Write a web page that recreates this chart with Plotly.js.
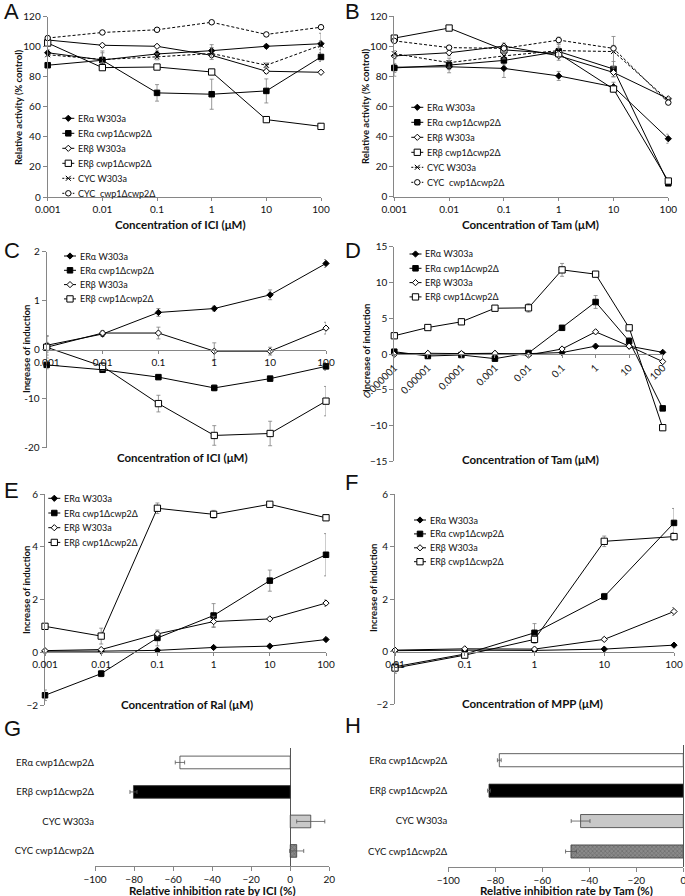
<!DOCTYPE html>
<html><head><meta charset="utf-8">
<script src="https://cdn.plot.ly/plotly-3.0.1.min.js"></script>
<style>html,body{margin:0;padding:0;background:#fff}#chart{width:685px;height:896px}</style>
</head><body><div id="chart"></div>
<script>
// ---------------- DATA ----------------
const CONC_A = [0.001, 0.01, 0.1, 1, 10, 100];
const CONC_B = [0.001, 0.01, 0.1, 1, 10, 100];
const CONC_C = [0.001, 0.01, 0.1, 1, 10, 100];
const CONC_D = [0.000001, 0.00001, 0.0001, 0.001, 0.01, 0.1, 1, 10, 100];
const CONC_E = [0.001, 0.01, 0.1, 1, 10, 100];
const CONC_F = [0.01, 0.1, 1, 10, 100];
const TICKS_6 = ['0.001', '0.01', '0.1', '1', '10', '100'];
const TICKS_D = ['0.000001', '0.00001', '0.0001', '0.001', '0.01', '0.1', '1', '10', '100'];
const TICKS_F = ['0.01', '0.1', '1', '10', '100'];

const NAME_ERA_W = 'ERα W303a';
const NAME_ERA_CWP = 'ERα cwp1Δcwp2Δ';
const NAME_ERB_W = 'ERβ W303a';
const NAME_ERB_CWP = 'ERβ cwp1Δcwp2Δ';
const NAME_CYC_W = 'CYC W303a';
const NAME_CYC_CWP = 'CYC\u00a0 cwp1Δcwp2Δ';

// Panel A: relative activity (% control), ICI
const A_ERA_W = [96, 91.2, 95.2, 97.4, 100.3, 102];
const A_ERA_W_SD = [2, 6, 2, 4, 1, 7];
const A_ERA_CWP = [87.7, 91, 69.3, 68.4, 70.6, 93.2];
const A_ERA_CWP_SD = [1.5, 5, 5.5, 10, 8, 3];
const A_ERB_W = [104.5, 101, 100.3, 94.3, 83.7, 83];
const A_ERB_W_SD = [1, 1, 1, 1.5, 1.5, 1];
const A_ERB_CWP = [102.5, 86.1, 86.5, 83.2, 51.5, 47];
const A_ERB_CWP_SD = [2, 1.5, 1, 1, 1, 2];
const A_CYC_W = [94.7, 91.5, 93.3, 95.5, 87.7, 101];
const A_CYC_W_SD = [1, 2, 2, 4, 1.5, 3];
const A_CYC_CWP = [105.8, 109.5, 111.3, 116.3, 108.2, 113];
const A_CYC_CWP_SD = [1, 1, 1, 1, 1, 1];

// Panel B: relative activity (% control), Tam
const B_ERA_W = [86, 86.3, 85.2, 80.2, 73, 38.5];
const B_ERA_W_SD = [6, 4, 6, 3, 3, 3];
const B_ERA_CWP = [85.5, 87.4, 90.5, 96.4, 84.8, 8.9];
const B_ERA_CWP_SD = [3, 3, 3, 3, 5, 1];
const B_ERB_W = [93.5, 95.6, 100, 93.6, 82.5, 65];
const B_ERB_W_SD = [2, 2, 2, 3, 3, 1];
const B_ERB_CWP = [105.3, 112, 97.5, 95, 71.5, 10.4];
const B_ERB_CWP_SD = [2, 1, 2, 2, 2, 1];
const B_CYC_W = [95, 89, 93.5, 97, 96.4, 64];
const B_CYC_W_SD = [2, 3, 2, 4, 10, 2];
const B_CYC_CWP = [103.5, 99, 98.5, 104, 98.5, 62.5];
const B_CYC_CWP_SD = [1, 1, 2, 2, 2, 1];

// Panel C: increase of induction, ICI (broken axis: cwp1Δcwp2Δ series on the x10 lower segment)
const C_ERA_W = [0.09, 0.32, 0.76, 0.84, 1.12, 1.76];
const C_ERA_W_SD = [0.2, 0.05, 0.08, 0.05, 0.1, 0.08];
const C_ERA_CWP = [-3.1, -4.1, -5.6, -7.8, -5.9, -3.4];
const C_ERA_CWP_SD = [0.8, 0.5, 0.4, 0.6, 0.4, 0.8];
const C_ERB_W = [0.05, 0.34, 0.34, -0.03, -0.03, 0.44];
const C_ERB_W_SD = [0.22, 0.05, 0.12, 0.17, 0.08, 0.12];
const C_ERB_CWP = [0.5, -3.4, -11, -17.5, -17.1, -10.5];
const C_ERB_CWP_SD = [1, 0.8, 1.7, 2, 2.5, 3];
const C_YTICKS = ['-20', '-10', '0', '1', '2'];

// Panel D: increase of induction, Tam
const D_ERA_W = [0.14, -0.1, 0, 0, 0.05, 0.2, 1.1, 1.1, 0.23];
const D_ERA_W_SD = [0.1, 0.1, 0.1, 0.1, 0.1, 0.1, 0.1, 0.1, 0.1];
const D_ERA_CWP = [0.32, -0.28, -0.14, -0.65, 0.14, 3.66, 7.27, 1.8, -7.6];
const D_ERA_CWP_SD = [0.2, 0.2, 0.2, 0.3, 0.2, 0.3, 0.9, 0.5, 0.3];
const D_ERB_W = [-0.05, 0.1, 0.05, 0.1, -0.14, 0.7, 3.1, 1.1, -1.06];
const D_ERB_W_SD = [0.1, 0.1, 0.1, 0.1, 0.1, 0.2, 0.2, 0.2, 0.2];
const D_ERB_CWP = [2.55, 3.7, 4.5, 6.4, 6.45, 11.76, 11.16, 3.66, -10.3];
const D_ERB_CWP_SD = [0.2, 0.3, 0.4, 0.3, 0.6, 0.9, 0.3, 0.3, 0.4];

// Panel E: increase of induction, Ral
const E_ERA_W = [0.05, 0.05, 0.08, 0.19, 0.24, 0.49];
const E_ERA_W_SD = [0.02, 0.02, 0.03, 0.03, 0.03, 0.04];
const E_ERA_CWP = [-1.62, -0.8, 0.55, 1.4, 2.72, 3.7];
const E_ERA_CWP_SD = [0.2, 0.12, 0.3, 0.45, 0.4, 0.8];
const E_ERB_W = [0.07, 0.11, 0.7, 1.17, 1.27, 1.87];
const E_ERB_W_SD = [0.03, 0.04, 0.1, 0.2, 0.05, 0.12];
const E_ERB_CWP = [0.99, 0.62, 5.46, 5.23, 5.61, 5.1];
const E_ERB_CWP_SD = [0.05, 0.3, 0.2, 0.15, 0.05, 0.08];

// Panel F: increase of induction, MPP
const F_ERA_W = [0.04, 0.06, 0.05, 0.1, 0.25];
const F_ERA_W_SD = [0.02, 0.02, 0.02, 0.03, 0.04];
const F_ERA_CWP = [-0.57, -0.09, 0.72, 2.1, 4.9];
const F_ERA_CWP_SD = [0.15, 0.1, 0.35, 0.12, 0.55];
const F_ERB_W = [0.06, 0.11, 0.1, 0.47, 1.53];
const F_ERB_W_SD = [0.03, 0.03, 0.03, 0.05, 0.15];
const F_ERB_CWP = [-0.62, -0.13, 0.47, 4.2, 4.38];
const F_ERB_CWP_SD = [0.2, 0.1, 0.15, 0.2, 0.15];

// Panels G, H: relative inhibition rate (%)
const BAR_LABELS = ['ERα cwp1Δcwp2Δ', 'ERβ cwp1Δcwp2Δ', 'CYC W303a', 'CYC cwp1Δcwp2Δ'];
const G_VALUES = [-56.5, -80.3, 10.5, 3.3];
const G_SD = [2.4, 1.8, 7.2, 3.6];
const H_VALUES = [-78.3, -82.7, -43.7, -47.8];
const H_SD = [0.8, 0.6, 4, 2.3];

// ---------------- STYLE / LAYOUT ----------------
const W = 685, H = 896;
const FONT = 'Lato, "Open Sans", sans-serif';
const AXC = '#868686';
const fx = p => p / W;
const fy = p => 1 - p / H;

const STY = {
  eraW:  {symbol: 'diamond', size: 4.8, color: '#000', line: {color: '#000', width: 1}},
  eraC:  {symbol: 'square', size: 5.5, color: '#000', line: {color: '#000', width: 1}},
  erbW:  {symbol: 'diamond', size: 4.8, color: '#fff', line: {color: '#000', width: 1}},
  erbC:  {symbol: 'square', size: 6.3, color: '#fff', line: {color: '#000', width: 1}},
  cycW:  {symbol: 'x-thin', size: 5, color: '#000', line: {color: '#000', width: 1}},
  cycC:  {symbol: 'circle', size: 5.5, color: '#fff', line: {color: '#000', width: 1}},
};
const DASH = '3px,2px';

function tr(name, x, y, sd, sty, n, dashed) {
  return {
    type: 'scatter', mode: 'lines+markers', name: name, x: x, y: y, showlegend: false,
    error_y: {type: 'data', array: sd, visible: true, color: '#7f7f7f', thickness: 0.8, width: 2},
    line: {color: '#000', width: 1, dash: dashed ? DASH : 'solid'},
    marker: sty,
    xaxis: 'x' + (n === 1 ? '' : n), yaxis: 'y' + (n === 1 ? '' : n),
    cliponaxis: false
  };
}
const C_LOWER = 0.1;
const lowC = arr => arr.map(v => v * C_LOWER);

const traces = [
  tr(NAME_ERA_W, CONC_A, A_ERA_W, A_ERA_W_SD, STY.eraW, 1),
  tr(NAME_ERA_CWP, CONC_A, A_ERA_CWP, A_ERA_CWP_SD, STY.eraC, 1),
  tr(NAME_ERB_W, CONC_A, A_ERB_W, A_ERB_W_SD, STY.erbW, 1),
  tr(NAME_ERB_CWP, CONC_A, A_ERB_CWP, A_ERB_CWP_SD, STY.erbC, 1),
  tr(NAME_CYC_W, CONC_A, A_CYC_W, A_CYC_W_SD, STY.cycW, 1, true),
  tr(NAME_CYC_CWP, CONC_A, A_CYC_CWP, A_CYC_CWP_SD, STY.cycC, 1, true),

  tr(NAME_ERA_W, CONC_B, B_ERA_W, B_ERA_W_SD, STY.eraW, 2),
  tr(NAME_ERA_CWP, CONC_B, B_ERA_CWP, B_ERA_CWP_SD, STY.eraC, 2),
  tr(NAME_ERB_W, CONC_B, B_ERB_W, B_ERB_W_SD, STY.erbW, 2),
  tr(NAME_ERB_CWP, CONC_B, B_ERB_CWP, B_ERB_CWP_SD, STY.erbC, 2),
  tr(NAME_CYC_W, CONC_B, B_CYC_W, B_CYC_W_SD, STY.cycW, 2, true),
  tr(NAME_CYC_CWP, CONC_B, B_CYC_CWP, B_CYC_CWP_SD, STY.cycC, 2, true),

  tr(NAME_ERA_W, CONC_C, C_ERA_W, C_ERA_W_SD, STY.eraW, 3),
  tr(NAME_ERA_CWP, CONC_C, lowC(C_ERA_CWP), lowC(C_ERA_CWP_SD), STY.eraC, 3),
  tr(NAME_ERB_W, CONC_C, C_ERB_W, C_ERB_W_SD, STY.erbW, 3),
  tr(NAME_ERB_CWP, CONC_C, lowC(C_ERB_CWP), lowC(C_ERB_CWP_SD), STY.erbC, 3),

  tr(NAME_ERA_W, CONC_D, D_ERA_W, D_ERA_W_SD, STY.eraW, 4),
  tr(NAME_ERA_CWP, CONC_D, D_ERA_CWP, D_ERA_CWP_SD, STY.eraC, 4),
  tr(NAME_ERB_W, CONC_D, D_ERB_W, D_ERB_W_SD, STY.erbW, 4),
  tr(NAME_ERB_CWP, CONC_D, D_ERB_CWP, D_ERB_CWP_SD, STY.erbC, 4),

  tr(NAME_ERA_W, CONC_E, E_ERA_W, E_ERA_W_SD, STY.eraW, 5),
  tr(NAME_ERA_CWP, CONC_E, E_ERA_CWP, E_ERA_CWP_SD, STY.eraC, 5),
  tr(NAME_ERB_W, CONC_E, E_ERB_W, E_ERB_W_SD, STY.erbW, 5),
  tr(NAME_ERB_CWP, CONC_E, E_ERB_CWP, E_ERB_CWP_SD, STY.erbC, 5),

  tr(NAME_ERA_W, CONC_F, F_ERA_W, F_ERA_W_SD, STY.eraW, 6),
  tr(NAME_ERA_CWP, CONC_F, F_ERA_CWP, F_ERA_CWP_SD, STY.eraC, 6),
  tr(NAME_ERB_W, CONC_F, F_ERB_W, F_ERB_W_SD, STY.erbW, 6),
  tr(NAME_ERB_CWP, CONC_F, F_ERB_CWP, F_ERB_CWP_SD, STY.erbC, 6),
];

function barTrace(vals, sd, n) {
  return {
    type: 'bar', orientation: 'h', x: vals, y: BAR_LABELS, width: 0.43, showlegend: false,
    xaxis: 'x' + n, yaxis: 'y' + n,
    marker: {color: ['#ffffff', '#000000', '#c8c8c8', '#8a8a8a'],
             line: {color: '#3a3a3a', width: 0.8},
             pattern: {shape: ['', '', '', 'x'], fillmode: 'overlay', fgcolor: '#1a1a1a',
                       size: 3, solidity: 0.35}},
    error_x: {type: 'data', array: sd, visible: true, color: '#555', thickness: 0.8, width: 2}
  };
}
traces.push(barTrace(G_VALUES, G_SD, 7));
traces.push(barTrace(H_VALUES, H_SD, 8));

const tickFont = {family: FONT, size: 10, color: '#111'};
function logX(x0, x1, range, vals, text, anchor, extra) {
  return Object.assign({
    type: 'log', domain: [fx(x0), fx(x1)], range: range, tickvals: vals, ticktext: text,
    showline: true, linecolor: AXC, linewidth: 1, ticks: 'outside', ticklen: 3, tickcolor: AXC,
    showgrid: false, zeroline: false, tickfont: tickFont, anchor: anchor, fixedrange: true
  }, extra || {});
}
function linY(y0, y1, range, extra, anchor) {
  return Object.assign({
    domain: [fy(y1), fy(y0)], range: range, showline: true, linecolor: AXC, linewidth: 1,
    ticks: 'outside', ticklen: 4, tickcolor: AXC, showgrid: false, zeroline: false,
    tickfont: tickFont, anchor: anchor
  }, extra || {});
}
function zeroPos(y0, y1, range) { // paper y of value 0 in a panel
  const d0 = fy(y1), d1 = fy(y0);
  return d0 + (0 - range[0]) / (range[1] - range[0]) * (d1 - d0);
}

const RC = [-2, 2], RD = [-15, 15], RE = [-2, 6], RF = [-2, 6];
const layout = {
  width: W, height: H, margin: {l: 0, r: 0, t: 0, b: 0},
  paper_bgcolor: '#fff', plot_bgcolor: 'rgba(0,0,0,0)',
  font: {family: FONT, size: 10, color: '#111'},
  showlegend: false,
  xaxis: logX(47.7, 321, [-3, 2], CONC_A, TICKS_6, 'y'),
  yaxis: linY(16.7, 197, [0, 120], {dtick: 20}, 'x'),
  xaxis2: logX(394.3, 668.3, [-3, 2], CONC_B, TICKS_6, 'y2'),
  yaxis2: linY(16, 196.7, [0, 120], {dtick: 20}, 'x2'),
  xaxis3: logX(46.7, 326, [-3, 2], CONC_C, TICKS_6, 'free', {position: zeroPos(251.7, 447.7, RC)}),
  yaxis3: linY(251.7, 447.7, RC, {tickvals: [-2, -1, 0, 1, 2], ticktext: C_YTICKS}, 'x3'),
  xaxis4: logX(394.3, 662.7, [-6, 2], CONC_D, TICKS_D, 'free', {position: zeroPos(246.7, 461.3, RD), tickangle: -45}),
  yaxis4: linY(246.7, 461.3, RD, {dtick: 5}, 'x4'),
  xaxis5: logX(45, 326, [-3, 2], CONC_E, TICKS_6, 'free', {position: zeroPos(494, 705.3, RE)}),
  yaxis5: linY(494, 705.3, RE, {dtick: 2}, 'x5'),
  xaxis6: logX(395, 674, [-2, 2], CONC_F, TICKS_F, 'free', {position: zeroPos(494, 704.3, RF)}),
  yaxis6: linY(494, 704.3, RF, {dtick: 2}, 'x6'),
  xaxis7: {domain: [fx(95), fx(329.3)], range: [-100, 20], tickvals: [-100, -80, -60, -40, -20, 0, 20],
           showline: true, linecolor: AXC, ticks: 'outside', ticklen: 4, tickcolor: AXC, showgrid: false,
           zeroline: true, zerolinecolor: '#555', zerolinewidth: 1, tickfont: tickFont, anchor: 'y7'},
  yaxis7: {domain: [fy(865.7), fy(747.7)], type: 'category', autorange: 'reversed', showline: false,
           ticks: '', showgrid: false, tickfont: {family: FONT, size: 9.5, color: '#111'}, anchor: 'x7'},
  xaxis8: {domain: [fx(448.3), fx(683.3)], range: [-100, 0], tickvals: [-100, -80, -60, -40, -20, 0],
           showline: true, linecolor: AXC, ticks: 'outside', ticklen: 4, tickcolor: AXC, showgrid: false,
           zeroline: true, zerolinecolor: '#555', zerolinewidth: 1, tickfont: tickFont, anchor: 'y8',
           ticklabeloverflow: 'allow'},
  yaxis8: {domain: [fy(866.7), fy(745)], type: 'category', autorange: 'reversed', showline: false,
           ticks: '', showgrid: false, tickfont: {family: FONT, size: 9.5, color: '#111'}, anchor: 'x8'},
  annotations: [],
  shapes: []
};

function ann(text, xp, yp, opts) {
  layout.annotations.push(Object.assign({
    text: text, x: fx(xp), y: fy(yp), xref: 'paper', yref: 'paper', showarrow: false,
    xanchor: 'center', yanchor: 'middle', font: {family: FONT, size: 11, color: '#111'}
  }, opts || {}));
}

// ----- compact legends (key swatch + label), drawn as layout shapes/annotations -----
function keyShapes(s, cx, cy) {
  const r = s.size / 2;
  const base = {xref: 'paper', yref: 'paper', layer: 'above', line: {color: '#000', width: 1}};
  if (s.symbol === 'square')
    return [Object.assign(base, {type: 'rect', fillcolor: s.color, x0: fx(cx - r), x1: fx(cx + r), y0: fy(cy + r), y1: fy(cy - r)})];
  if (s.symbol === 'circle')
    return [Object.assign(base, {type: 'circle', fillcolor: s.color, x0: fx(cx - r), x1: fx(cx + r), y0: fy(cy + r), y1: fy(cy - r)})];
  if (s.symbol === 'diamond') {
    const d = r * 1.3;
    return [Object.assign(base, {type: 'path', fillcolor: s.color,
      path: `M${fx(cx - d)},${fy(cy)} L${fx(cx)},${fy(cy - d)} L${fx(cx + d)},${fy(cy)} L${fx(cx)},${fy(cy + d)} Z`})];
  }
  // x-thin
  return [Object.assign(base, {type: 'path',
    path: `M${fx(cx - r)},${fy(cy - r)} L${fx(cx + r)},${fy(cy + r)} M${fx(cx - r)},${fy(cy + r)} L${fx(cx + r)},${fy(cy - r)}`})];
}
function drawLegend(sx, y0, dy, items) {
  items.forEach((it, i) => {
    const cy = y0 + i * dy;
    layout.shapes.push({type: 'line', xref: 'paper', yref: 'paper', layer: 'above',
      x0: fx(sx - 6), x1: fx(sx + 6), y0: fy(cy), y1: fy(cy),
      line: {color: '#000', width: 1, dash: it[2] ? '2px,1.5px' : 'solid'}});
    keyShapes(it[1], sx, cy).forEach(s => layout.shapes.push(s));
    ann(it[0], sx + 7.5, cy, {xanchor: 'left', font: {family: FONT, size: 9, color: '#111'}});
  });
}
const LEG6 = [[NAME_ERA_W, STY.eraW], [NAME_ERA_CWP, STY.eraC], [NAME_ERB_W, STY.erbW],
              [NAME_ERB_CWP, STY.erbC], [NAME_CYC_W, STY.cycW, true], [NAME_CYC_CWP, STY.cycC, true]];
const LEG4 = LEG6.slice(0, 4);
drawLegend(68.3, 118.3, 15, LEG6);
drawLegend(417.3, 107.3, 15, LEG6);
drawLegend(70, 256, 14.3, LEG4);
drawLegend(415.5, 254, 14.3, LEG4);
drawLegend(54.3, 498.3, 14.7, LEG4);
drawLegend(420, 520, 13.9, LEG4);

const bold = s => '<b>' + s + '</b>';
const letterFont = {family: '"Liberation Sans", Arial, sans-serif', size: 22, color: '#111'};
ann('A', 2, 12, {xanchor: 'left', font: letterFont});
ann('B', 343, 12, {xanchor: 'left', font: letterFont});
ann('C', 2, 250, {xanchor: 'left', font: letterFont});
ann('D', 343, 250, {xanchor: 'left', font: letterFont});
ann('E', 2, 490, {xanchor: 'left', font: letterFont});
ann('F', 343, 482, {xanchor: 'left', font: letterFont});
ann('G', 2, 728, {xanchor: 'left', font: letterFont});
ann('H', 343, 725, {xanchor: 'left', font: letterFont});

const xTitleFont = {family: FONT, size: 11.5, color: '#111'};
const yTitleFont = {family: FONT, size: 9.5, color: '#111'};
ann(bold('Concentration of ICI (μM)'), 180, 224, {font: xTitleFont});
ann(bold('Concentration of Tam (μM)'), 530, 224, {font: xTitleFont});
ann(bold('Concentration of ICI (μM)'), 182, 457, {font: xTitleFont});
ann(bold('Concentration of Tam (μM)'), 530, 460, {font: xTitleFont});
ann(bold('Concentration of Ral (μM)'), 187, 704, {font: xTitleFont});
ann(bold('Concentration of MPP (μM)'), 532, 703, {font: xTitleFont});
ann(bold('Relative inhibition rate by ICI (%)'), 212, 890, {font: xTitleFont});
ann(bold('Relative inhibition rate by Tam (%)'), 566, 890, {font: xTitleFont});

ann(bold('Relative activity (% control)'), 18.3, 106.7, {textangle: -90, font: yTitleFont});
ann(bold('Relative activity (% control)'), 366, 106, {textangle: -90, font: yTitleFont});
ann(bold('Increase of induction'), 26, 349, {textangle: -90, font: yTitleFont});
ann(bold('Increase of induction'), 366, 348, {textangle: -90, font: yTitleFont});
ann(bold('Increase of induction'), 26, 590, {textangle: -90, font: yTitleFont});
ann(bold('Increase of induction'), 373, 588, {textangle: -90, font: yTitleFont});
ann('//', 28, 381, {font: {family: FONT, size: 10, color: '#333'}});

Plotly.newPlot('chart', traces, layout, {displayModeBar: false, staticPlot: true});
</script>
</body></html>
